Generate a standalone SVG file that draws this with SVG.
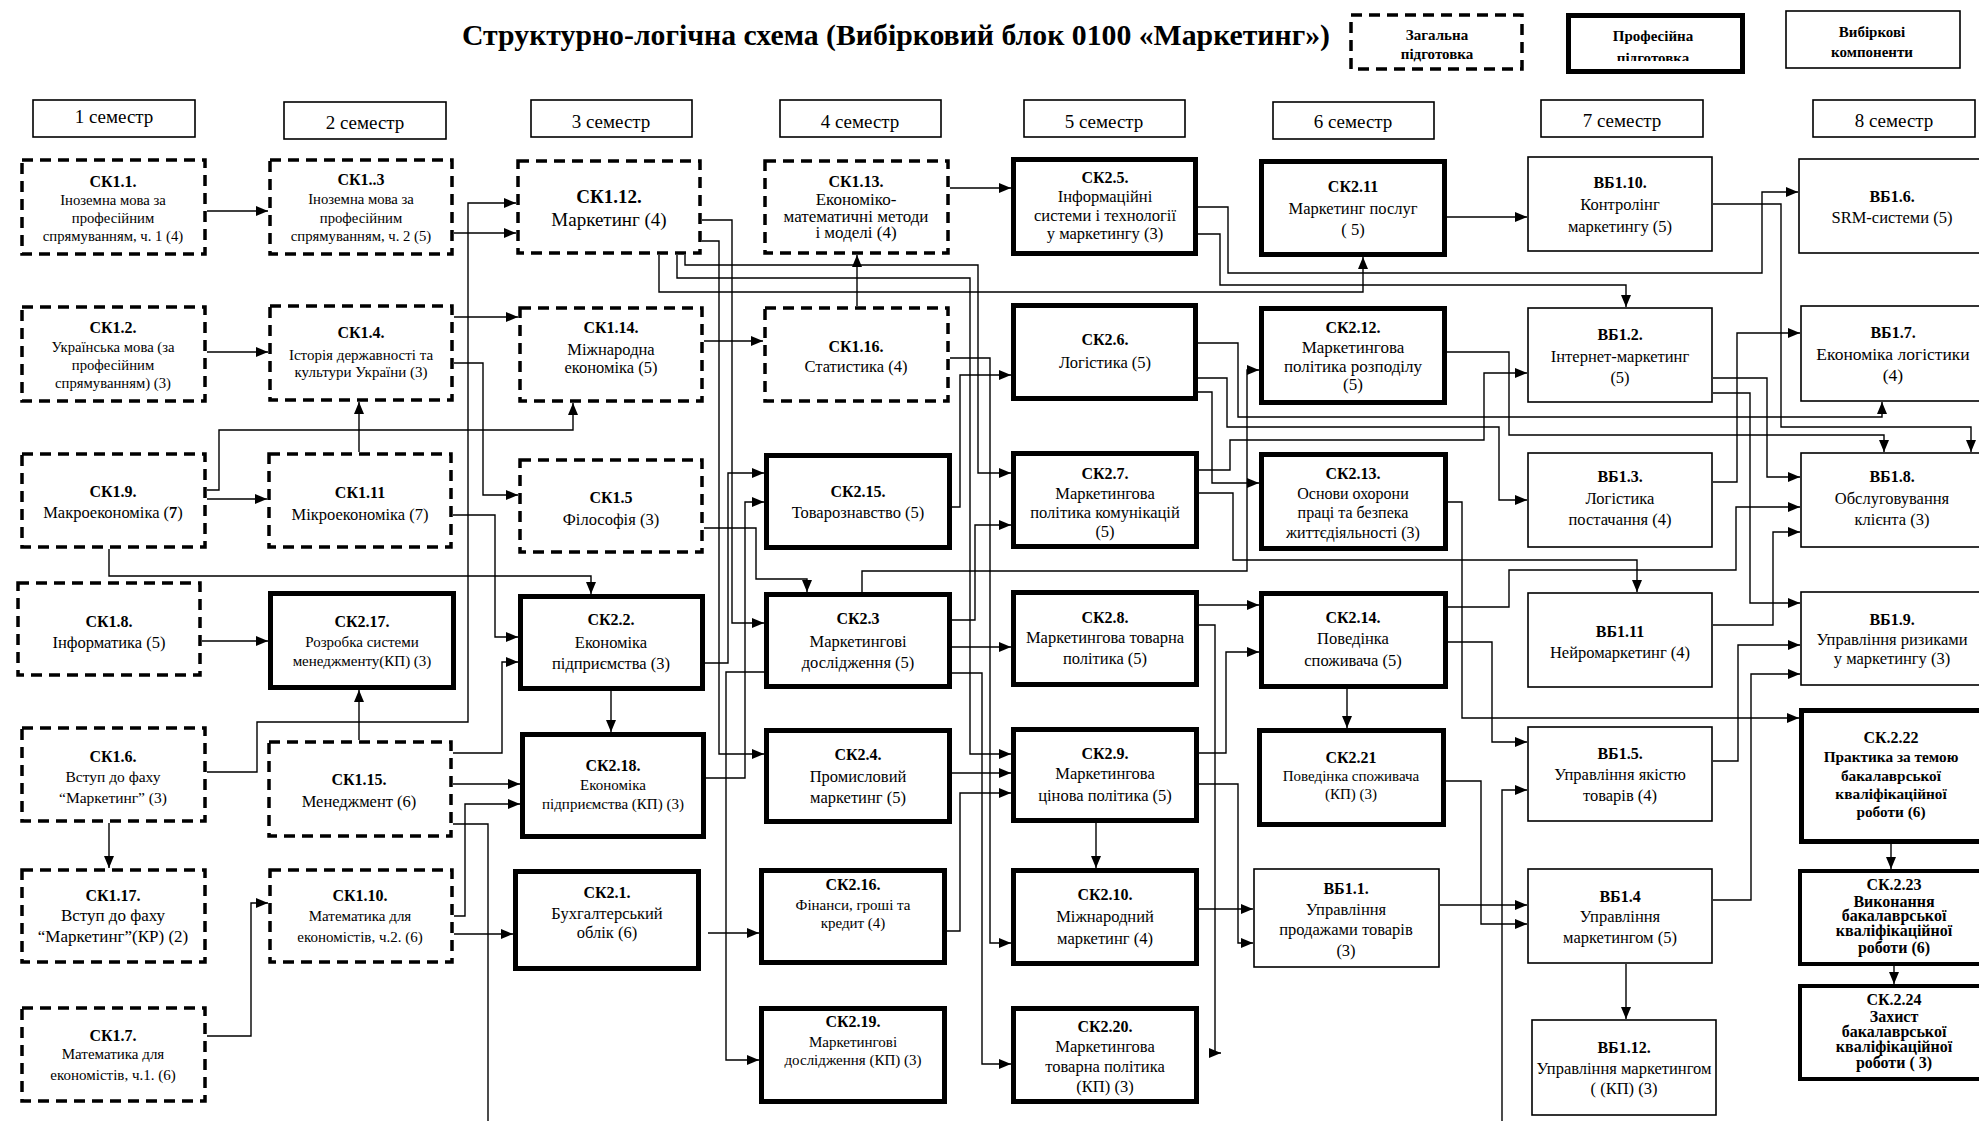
<svg xmlns="http://www.w3.org/2000/svg" width="1979" height="1121" viewBox="0 0 1979 1121">
<style>
.bg{fill:#fff}
.dash{fill:#fff;stroke:#000;stroke-width:3.5;stroke-dasharray:11 7}
.thick{fill:#fff;stroke:#000;stroke-width:5}
.med{fill:#fff;stroke:#000;stroke-width:4}
.thin{fill:#fff;stroke:#000;stroke-width:1.6}
text{font-family:"Liberation Serif","Times New Roman",serif;text-anchor:middle;fill:#000}
.c{font-size:16px;font-weight:bold}
.d{font-size:16.5px}
.s{font-size:14.7px}
.m{font-size:15px}
.e{font-size:17px}
.f{font-size:16px}
.g{font-size:15.5px}
.h{font-size:17.5px}
.L{font-size:19px}
.Lb{font-size:19px;font-weight:bold}
.k{font-size:15.3px;font-weight:bold}
.k2{font-size:16px;font-weight:bold}
.sem{font-size:19px}
.lg{font-size:15px;font-weight:bold}
.title{font-size:29px;font-weight:bold;text-anchor:start}
.ln{fill:none;stroke:#000;stroke-width:1.4}
.ar{marker-end:url(#a)}
</style>
<defs>
<marker id="a" viewBox="0 0 12 10" refX="12" refY="5" markerWidth="12" markerHeight="10" markerUnits="userSpaceOnUse" orient="auto"><path d="M0,0 L12,5 L0,10 z" fill="#000"/></marker>
<clipPath id="clipP"><rect x="1566" y="13" width="179" height="48"/></clipPath>
</defs>
<rect class="bg" x="0" y="0" width="1979" height="1121"/>

<g id="title"><text class="title" x="462" y="45" textLength="868" lengthAdjust="spacingAndGlyphs">Структурно-логічна схема (Вибірковий блок 0100 «Маркетинг»)</text></g>

<g id="legend-general"><rect class="dash" x="1351" y="15" width="171" height="54"/><text class="lg" x="1437" y="40">Загальна</text><text class="lg" x="1437" y="59">підготовка</text></g>
<g id="legend-prof"><rect class="thick" x="1568.5" y="15.5" width="174" height="56"/><text class="lg" x="1653" y="41">Професійна</text><g clip-path="url(#clipP)"><text class="lg" x="1653" y="62.5">підготовка</text></g></g>
<g id="legend-elective"><rect class="thin" x="1786" y="11" width="174" height="57"/><text class="lg" x="1872" y="37">Вибіркові</text><text class="lg" x="1872" y="57">компоненти</text></g>

<g id="semesters">
<g id="sem1"><rect class="thin" x="33" y="100" width="162" height="37"/><text class="sem" x="114" y="123">1 семестр</text></g>
<g id="sem2"><rect class="thin" x="284" y="102" width="162" height="37"/><text class="sem" x="365" y="129">2 семестр</text></g>
<g id="sem3"><rect class="thin" x="531" y="100" width="161" height="37"/><text class="sem" x="611" y="128">3 семестр</text></g>
<g id="sem4"><rect class="thin" x="780" y="100" width="161" height="37"/><text class="sem" x="860" y="128">4 семестр</text></g>
<g id="sem5"><rect class="thin" x="1024" y="100" width="161" height="37"/><text class="sem" x="1104" y="128">5 семестр</text></g>
<g id="sem6"><rect class="thin" x="1273" y="102" width="161" height="37"/><text class="sem" x="1353" y="128">6 семестр</text></g>
<g id="sem7"><rect class="thin" x="1541" y="100" width="162" height="37"/><text class="sem" x="1622" y="127">7 семестр</text></g>
<g id="sem8"><rect class="thin" x="1813" y="100" width="162" height="37"/><text class="sem" x="1894" y="127">8 семестр</text></g>
</g>

<g id="connectors">
<path class="ln ar" d="M207,211 H268"/>
<path class="ln ar" d="M207,352 H268"/>
<path class="ln ar" d="M454,233 H516"/>
<path class="ln ar" d="M207,772 H257 V722 H468 V203 H516"/>
<path class="ln ar" d="M454,317 H518"/>
<path class="ln ar" d="M454,363 H483 V495 H518"/>
<path class="ln ar" d="M207,499 H267"/>
<path class="ln ar" d="M207,490 H219 V430 H573 V403"/>
<path class="ln ar" d="M359,452 V402"/>
<path class="ln ar" d="M453,515 H495 V637 H518"/>
<path class="ln ar" d="M109,549 V576 H591 V594"/>
<path class="ln ar" d="M202,641 H268"/>
<path class="ln ar" d="M359,740 V690"/>
<path class="ln ar" d="M109,823 V868"/>
<path class="ln ar" d="M207,1036 H251 V903 H268"/>
<path class="ln ar" d="M453,784 H520"/>
<path class="ln ar" d="M454,916 H465 V804 H520"/>
<path class="ln ar" d="M453,753 H502 V662 H518"/>
<path class="ln" d="M453,824 H488 V1121"/>
<path class="ln ar" d="M454,934 H513"/>
<path class="ln ar" d="M702,220 H732 V623 H764"/>
<path class="ln ar" d="M702,241 H719 V754 H764"/>
<path class="ln ar" d="M705,663 H728 V473 H764"/>
<path class="ln ar" d="M706,778 H745 V502 H764"/>
<path class="ln ar" d="M764,672 H726 V1060 H759"/>
<path class="ln ar" d="M704,528 H756 V579 H807 V592"/>
<path class="ln ar" d="M611,691 V732"/>
<path class="ln ar" d="M857,306 V255"/>
<path class="ln ar" d="M950,188 H1011"/>
<path class="ln ar" d="M704,341 H763"/>
<path class="ln ar" d="M659,255 V292 H1363 V257"/>
<path class="ln ar" d="M685,255 V265 H978 V473 H1011"/>
<path class="ln ar" d="M677,255 V278 H970 V754 H1011"/>
<path class="ln ar" d="M862,592 V571 H1247 V370 H1259"/>
<path class="ln ar" d="M952,620 H975 V525 H1011"/>
<path class="ln ar" d="M952,507 H960 V375 H1011"/>
<path class="ln ar" d="M952,647 H1011"/>
<path class="ln ar" d="M952,673 H982 V1064 H1011"/>
<path class="ln ar" d="M950,358 H990 V943 H1011"/>
<path class="ln ar" d="M708,933 H759"/>
<path class="ln ar" d="M952,773 H1011"/>
<path class="ln ar" d="M947,931 H960 V793 H1011"/>
<path class="ln ar" d="M1198,207 H1228 V273 H1762 V192 H1798"/>
<path class="ln ar" d="M1198,234 H1220 V285 H1626 V307"/>
<path class="ln ar" d="M1447,217 H1527"/>
<path class="ln ar" d="M1713,204 H1781 V427 H1971 V452"/>
<path class="ln ar" d="M1198,343 H1238 V417 H1882 V402"/>
<path class="ln ar" d="M1198,378 H1227 V427 H1499 V500 H1527"/>
<path class="ln ar" d="M1198,392 H1212 V483 H1259"/>
<path class="ln ar" d="M1447,352 H1509 V435 H1884 V452"/>
<path class="ln ar" d="M1199,470 H1230 V440 H1484 V373 H1527"/>
<path class="ln ar" d="M1199,493 H1233 V560 H1637 V592"/>
<path class="ln ar" d="M1448,502 H1462 V718 H1799"/>
<path class="ln ar" d="M1199,605 H1259"/>
<path class="ln ar" d="M1199,625 H1215 V1053 H1221"/>
<path class="ln ar" d="M1199,753 H1226 V652 H1259"/>
<path class="ln ar" d="M1347,689 V728"/>
<path class="ln ar" d="M1448,607 H1509 V570 H1736 V507 H1800"/>
<path class="ln ar" d="M1448,642 H1492 V742 H1527"/>
<path class="ln ar" d="M1713,378 H1767 V477 H1800"/>
<path class="ln ar" d="M1713,393 H1750 V603 H1800"/>
<path class="ln ar" d="M1713,482 H1737 V333 H1800"/>
<path class="ln ar" d="M1713,625 H1773 V532 H1800"/>
<path class="ln ar" d="M1713,761 H1738 V645 H1800"/>
<path class="ln ar" d="M1713,900 H1751 V674 H1800"/>
<path class="ln ar" d="M1502,1121 V790 H1527"/>
<path class="ln ar" d="M1440,905 H1527"/>
<path class="ln ar" d="M1446,781 H1481 V924 H1527"/>
<path class="ln ar" d="M1626,964 V1019"/>
<path class="ln ar" d="M1891,844 V869"/>
<path class="ln ar" d="M1894,966 V984"/>
<path class="ln ar" d="M1096,823 V868"/>
<path class="ln ar" d="M1199,784 H1238 V943 H1253"/>
<path class="ln ar" d="M1199,909 H1253"/>
</g>

<g id="CK1.1"><rect class="dash" x="22" y="160" width="183" height="94"/><text class="c" x="113" y="187">СК1.1.</text><text class="s" x="113" y="205">Іноземна мова за</text><text class="s" x="113" y="223">професійним</text><text class="s" x="113" y="241">спрямуванням, ч. 1 (4)</text></g>
<g id="CK1.2"><rect class="dash" x="22" y="307" width="183" height="94"/><text class="c" x="113" y="333">СК1.2.</text><text class="s" x="113" y="352">Українська мова (за</text><text class="s" x="113" y="370">професійним</text><text class="s" x="113" y="388">спрямуванням) (3)</text></g>
<g id="CK1.9"><rect class="dash" x="22" y="454" width="183" height="93"/><text class="c" x="113" y="497">СК1.9.</text><text class="d" x="113" y="518">Макроекономіка (<tspan font-weight="bold">7</tspan>)</text></g>
<g id="CK1.8"><rect class="dash" x="18" y="583" width="182" height="92"/><text class="c" x="109" y="627">СК1.8.</text><text class="d" x="109" y="648">Інформатика (5)</text></g>
<g id="CK1.6"><rect class="dash" x="22" y="728" width="183" height="93"/><text class="c" x="113" y="762">СК1.6.</text><text class="g" x="113" y="782">Вступ до фаху</text><text class="g" x="113" y="803">“Маркетинг” (3)</text></g>
<g id="CK1.17"><rect class="dash" x="22" y="870" width="183" height="92"/><text class="c" x="113" y="901">СК1.17.</text><text class="e" x="113" y="921">Вступ до фаху</text><text class="e" x="113" y="942">“Маркетинг”(КР) (2)</text></g>
<g id="CK1.7"><rect class="dash" x="22" y="1008" width="183" height="93"/><text class="c" x="113" y="1041">СК1.7.</text><text class="m" x="113" y="1059">Математика для</text><text class="m" x="113" y="1080">економістів, ч.1. (6)</text></g>

<g id="CK1.3"><rect class="dash" x="270" y="160" width="182" height="94"/><text class="c" x="361" y="185">СК1..3</text><text class="s" x="361" y="204">Іноземна мова за</text><text class="s" x="361" y="223">професійним</text><text class="s" x="361" y="241">спрямуванням, ч. 2 (5)</text></g>
<g id="CK1.4"><rect class="dash" x="270" y="306" width="182" height="94"/><text class="c" x="361" y="338">СК1.4.</text><text class="m" x="361" y="360">Історія державності та</text><text class="m" x="361" y="377">культури України (3)</text></g>
<g id="CK1.11"><rect class="dash" x="269" y="454" width="182" height="93"/><text class="c" x="360" y="498">СК1.11</text><text class="d" x="360" y="520">Мікроекономіка (7)</text></g>
<g id="CK2.17"><rect class="thick" x="270.5" y="593.5" width="183" height="94"/><text class="c" x="362" y="627">СК2.17.</text><text class="m" x="362" y="647">Розробка системи</text><text class="m" x="362" y="666">менеджменту(КП) (3)</text></g>
<g id="CK1.15"><rect class="dash" x="269" y="742" width="182" height="94"/><text class="c" x="359" y="785">СК1.15.</text><text class="d" x="359" y="807">Менеджмент (6)</text></g>
<g id="CK1.10"><rect class="dash" x="270" y="870" width="182" height="92"/><text class="c" x="360" y="901">СК1.10.</text><text class="m" x="360" y="921">Математика для</text><text class="m" x="360" y="942">економістів, ч.2. (6)</text></g>

<g id="CK1.12"><rect class="dash" x="518" y="161" width="182" height="92"/><text class="Lb" x="609" y="203">СК1.12.</text><text class="L" x="609" y="226">Маркетинг (4)</text></g>
<g id="CK1.14"><rect class="dash" x="520" y="308" width="182" height="93"/><text class="c" x="611" y="333">СК1.14.</text><text class="d" x="611" y="355">Міжнародна</text><text class="d" x="611" y="373">економіка (5)</text></g>
<g id="CK1.5"><rect class="dash" x="520" y="460" width="182" height="92"/><text class="c" x="611" y="503">СК1.5</text><text class="d" x="611" y="525">Філософія (3)</text></g>
<g id="CK2.2"><rect class="thick" x="520.5" y="596.5" width="182" height="92"/><text class="c" x="611" y="625">СК2.2.</text><text class="d" x="611" y="648">Економіка</text><text class="d" x="611" y="669">підприємства (3)</text></g>
<g id="CK2.18"><rect class="thick" x="522.5" y="734.5" width="181" height="102"/><text class="c" x="613" y="771">СК2.18.</text><text class="m" x="613" y="790">Економіка</text><text class="m" x="613" y="809">підприємства (КП) (3)</text></g>
<g id="CK2.1"><rect class="thick" x="515.5" y="871.5" width="183" height="97"/><text class="c" x="607" y="898">СК2.1.</text><text class="d" x="607" y="919">Бухгалтерський</text><text class="d" x="607" y="938">облік (6)</text></g>

<g id="CK1.13"><rect class="dash" x="765" y="161" width="183" height="92"/><text class="c" x="856" y="187">СК1.13.</text><text class="e" x="856" y="205">Економіко-</text><text class="e" x="856" y="222">математичні методи</text><text class="e" x="856" y="238">і моделі (4)</text></g>
<g id="CK1.16"><rect class="dash" x="765" y="308" width="183" height="93"/><text class="c" x="856" y="352">СК1.16.</text><text class="d" x="856" y="372">Статистика  (4)</text></g>
<g id="CK2.15"><rect class="thick" x="766.5" y="455.5" width="183" height="92"/><text class="c" x="858" y="497">СК2.15.</text><text class="d" x="858" y="518">Товарознавство (5)</text></g>
<g id="CK2.3"><rect class="thick" x="766.5" y="594.5" width="183" height="92"/><text class="c" x="858" y="624">СК2.3</text><text class="d" x="858" y="647">Маркетингові</text><text class="d" x="858" y="668">дослідження (5)</text></g>
<g id="CK2.4"><rect class="thick" x="766.5" y="730.5" width="183" height="91"/><text class="c" x="858" y="760">СК2.4.</text><text class="d" x="858" y="782">Промисловий</text><text class="d" x="858" y="803">маркетинг (5)</text></g>
<g id="CK2.16"><rect class="thick" x="761.5" y="870.5" width="183" height="92"/><text class="c" x="853" y="890">СК2.16.</text><text class="m" x="853" y="910">Фінанси, гроші та</text><text class="m" x="853" y="928">кредит  (4)</text></g>
<g id="CK2.19"><rect class="thick" x="761.5" y="1008.5" width="183" height="93"/><text class="c" x="853" y="1027">СК2.19.</text><text class="m" x="853" y="1047">Маркетингові</text><text class="m" x="853" y="1065">дослідження (КП) (3)</text></g>

<g id="CK2.5"><rect class="thick" x="1013.5" y="159.5" width="182" height="94"/><text class="c" x="1105" y="183">СК2.5.</text><text class="d" x="1105" y="202">Інформаційні</text><text class="d" x="1105" y="221">системи і технології</text><text class="d" x="1105" y="239">у маркетингу (3)</text></g>
<g id="CK2.6"><rect class="thick" x="1013.5" y="305.5" width="182" height="93"/><text class="c" x="1105" y="345">СК2.6.</text><text class="d" x="1105" y="368">Логістика (5)</text></g>
<g id="CK2.7"><rect class="thick" x="1013.5" y="453.5" width="183" height="93"/><text class="c" x="1105" y="479">СК2.7.</text><text class="d" x="1105" y="499">Маркетингова</text><text class="d" x="1105" y="518">політика комунікацій</text><text class="d" x="1105" y="537">(5)</text></g>
<g id="CK2.8"><rect class="thick" x="1013.5" y="592.5" width="183" height="92"/><text class="c" x="1105" y="623">СК2.8.</text><text class="d" x="1105" y="643">Маркетингова товарна</text><text class="d" x="1105" y="664">політика (5)</text></g>
<g id="CK2.9"><rect class="thick" x="1013.5" y="729.5" width="183" height="91"/><text class="c" x="1105" y="759">СК2.9.</text><text class="d" x="1105" y="779">Маркетингова</text><text class="d" x="1105" y="801">цінова політика (5)</text></g>
<g id="CK2.10"><rect class="thick" x="1013.5" y="870.5" width="183" height="93"/><text class="c" x="1105" y="900">СК2.10.</text><text class="d" x="1105" y="922">Міжнародний</text><text class="d" x="1105" y="944">маркетинг (4)</text></g>
<g id="CK2.20"><rect class="thick" x="1013.5" y="1008.5" width="183" height="93"/><text class="c" x="1105" y="1032">СК2.20.</text><text class="d" x="1105" y="1052">Маркетингова</text><text class="d" x="1105" y="1072">товарна політика</text><text class="d" x="1105" y="1092">(КП) (3)</text></g>

<g id="CK2.11"><rect class="thick" x="1261.5" y="161.5" width="183" height="93"/><text class="c" x="1353" y="192">СК2.11</text><text class="d" x="1353" y="214">Маркетинг послуг</text><text class="d" x="1353" y="235">( 5)</text></g>
<g id="CK2.12"><rect class="thick" x="1261.5" y="308.5" width="183" height="94"/><text class="c" x="1353" y="333">СК2.12.</text><text class="e" x="1353" y="353">Маркетингова</text><text class="e" x="1353" y="372">політика розподілу</text><text class="e" x="1353" y="390">(5)</text></g>
<g id="CK2.13"><rect class="thick" x="1261.5" y="454.5" width="184" height="94"/><text class="c" x="1353" y="479">СК2.13.</text><text class="f" x="1353" y="499">Основи охорони</text><text class="f" x="1353" y="518">праці та безпека</text><text class="f" x="1353" y="538">життєдіяльності (3)</text></g>
<g id="CK2.14"><rect class="thick" x="1261.5" y="593.5" width="184" height="93"/><text class="c" x="1353" y="623">СК2.14.</text><text class="d" x="1353" y="644">Поведінка</text><text class="d" x="1353" y="666">споживача (5)</text></g>
<g id="CK2.21"><rect class="thick" x="1259.5" y="730.5" width="184" height="94"/><text class="c" x="1351" y="763">СК2.21</text><text class="m" x="1351" y="781">Поведінка споживача</text><text class="m" x="1351" y="799">(КП) (3)</text></g>
<g id="VB1.1"><rect class="thin" x="1254" y="869" width="185" height="98"/><text class="c" x="1346" y="894">ВБ1.1.</text><text class="d" x="1346" y="915">Управління</text><text class="d" x="1346" y="935">продажами товарів</text><text class="d" x="1346" y="956">(3)</text></g>

<g id="VB1.10"><rect class="thin" x="1528" y="157" width="184" height="94"/><text class="c" x="1620" y="188">ВБ1.10.</text><text class="d" x="1620" y="210">Контролінг</text><text class="d" x="1620" y="232">маркетингу (5)</text></g>
<g id="VB1.2"><rect class="thin" x="1528" y="308" width="184" height="94"/><text class="c" x="1620" y="340">ВБ1.2.</text><text class="d" x="1620" y="362">Інтернет-маркетинг</text><text class="d" x="1620" y="383">(5)</text></g>
<g id="VB1.3"><rect class="thin" x="1528" y="453" width="184" height="94"/><text class="c" x="1620" y="482">ВБ1.3.</text><text class="d" x="1620" y="504">Логістика</text><text class="d" x="1620" y="525">постачання (4)</text></g>
<g id="VB1.11"><rect class="thin" x="1528" y="593" width="184" height="94"/><text class="c" x="1620" y="637">ВБ1.11</text><text class="d" x="1620" y="658">Нейромаркетинг (4)</text></g>
<g id="VB1.5"><rect class="thin" x="1528" y="727" width="184" height="94"/><text class="c" x="1620" y="759">ВБ1.5.</text><text class="d" x="1620" y="780">Управління якістю</text><text class="d" x="1620" y="801">товарів (4)</text></g>
<g id="VB1.4"><rect class="thin" x="1528" y="869" width="184" height="94"/><text class="c" x="1620" y="902">ВБ1.4</text><text class="d" x="1620" y="922">Управління</text><text class="d" x="1620" y="943">маркетингом (5)</text></g>
<g id="VB1.12"><rect class="thin" x="1532" y="1020" width="184" height="95"/><text class="c" x="1624" y="1053">ВБ1.12.</text><text class="d" x="1624" y="1074">Управління маркетингом</text><text class="d" x="1624" y="1094">( (КП) (3)</text></g>

<g id="VB1.6"><rect class="thin" x="1799" y="159" width="200" height="94"/><text class="c" x="1892" y="202">ВБ1.6.</text><text class="d" x="1892" y="223">SRM-системи (5)</text></g>
<g id="VB1.7"><rect class="thin" x="1801" y="306" width="200" height="95"/><text class="c" x="1893" y="338">ВБ1.7.</text><text class="h" x="1893" y="360">Економіка логістики</text><text class="h" x="1893" y="381">(4)</text></g>
<g id="VB1.8"><rect class="thin" x="1801" y="453" width="200" height="94"/><text class="c" x="1892" y="482">ВБ1.8.</text><text class="d" x="1892" y="504">Обслуговування</text><text class="d" x="1892" y="525">клієнта (3)</text></g>
<g id="VB1.9"><rect class="thin" x="1801" y="592" width="200" height="93"/><text class="c" x="1892" y="625">ВБ1.9.</text><text class="d" x="1892" y="645">Управління ризиками</text><text class="d" x="1892" y="664">у маркетингу (3)</text></g>
<g id="CK2.22"><rect class="thick" x="1801.5" y="710.5" width="200" height="131"/><text class="k2" x="1891" y="743">СК.2.22</text><text class="k" x="1891" y="762">Практика за темою</text><text class="k" x="1891" y="781">бакалаврської</text><text class="k" x="1891" y="799">кваліфікаційної</text><text class="k" x="1891" y="817">роботи (6)</text></g>
<g id="CK2.23"><rect class="med" x="1800" y="871" width="200" height="93"/><text class="k2" x="1894" y="890">СК.2.23</text><text class="k2" x="1894" y="907">Виконання</text><text class="k2" x="1894" y="921">бакалаврської</text><text class="k2" x="1894" y="936">кваліфікаційної</text><text class="k2" x="1894" y="953">роботи (6)</text></g>
<g id="CK2.24"><rect class="med" x="1800" y="986" width="200" height="93"/><text class="k2" x="1894" y="1005">СК.2.24</text><text class="k2" x="1894" y="1022">Захист</text><text class="k2" x="1894" y="1037">бакалаврської</text><text class="k2" x="1894" y="1052">кваліфікаційної</text><text class="k2" x="1894" y="1068">роботи ( 3)</text></g>
</svg>
